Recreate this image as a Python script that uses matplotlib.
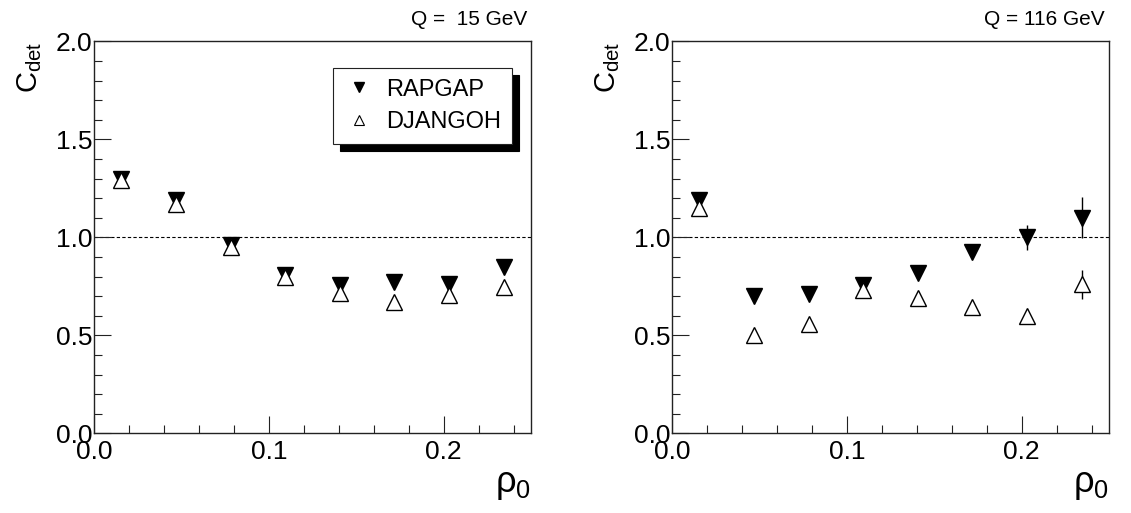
import matplotlib
matplotlib.use("Agg")
import matplotlib.pyplot as plt
from matplotlib.ticker import MultipleLocator, FormatStrFormatter
from matplotlib.lines import Line2D

plt.rcParams['font.family'] = ['Liberation Sans', 'DejaVu Sans']
plt.rcParams['mathtext.fontset'] = 'custom'
plt.rcParams['mathtext.rm'] = 'Liberation Sans'
plt.rcParams['mathtext.it'] = 'Liberation Sans'

rho = [0.0156, 0.0469, 0.0781, 0.1094, 0.1406, 0.1719, 0.2031, 0.2344]

rapgap_15 = [1.30, 1.19, 0.96, 0.81, 0.755, 0.77, 0.76, 0.85]
rapgap_15_err = [0.01, 0.01, 0.01, 0.01, 0.01, 0.01, 0.01, 0.01]
djangoh_15 = [1.29, 1.17, 0.95, 0.795, 0.715, 0.67, 0.705, 0.745]
djangoh_15_err = [0.01, 0.01, 0.01, 0.01, 0.01, 0.01, 0.01, 0.01]

rapgap_116 = [1.19, 0.70, 0.71, 0.755, 0.82, 0.925, 1.00, 1.10]
rapgap_116_err = [0.01, 0.01, 0.01, 0.015, 0.015, 0.02, 0.065, 0.105]
djangoh_116 = [1.15, 0.50, 0.56, 0.73, 0.69, 0.645, 0.60, 0.76]
djangoh_116_err = [0.01, 0.01, 0.01, 0.015, 0.015, 0.02, 0.03, 0.075]

titles = ['Q =  15 GeV', 'Q = 116 GeV']
series_names = ['RAPGAP', 'DJANGOH']
W, H = 1131, 513
fig = plt.figure(figsize=(W/100, H/100), dpi=100)

AX_W, AX_H = 437, 392
panels = [
    (94, rapgap_15, rapgap_15_err, djangoh_15, djangoh_15_err, True),
    (672, rapgap_116, rapgap_116_err, djangoh_116, djangoh_116_err, False),
]

for i, (x0, rv, re, dv, de, leg) in enumerate(panels):
    ax = fig.add_axes([x0/W, (H-433.3)/H, AX_W/W, AX_H/H])
    ax.set_xlim(0, 0.25)
    ax.set_ylim(0, 2.0)
    ax.axhline(1.0, color='black', lw=0.8, ls=(0, (3, 2)), zorder=1)
    ax.errorbar(rho, rv, yerr=re, fmt='v', ms=11, mfc='black', mec='black',
                ecolor='black', elinewidth=1, capsize=0, zorder=3)
    ax.errorbar(rho, dv, yerr=de, fmt='^', ms=11, mfc='white', mec='black', mew=1,
                ecolor='black', elinewidth=1, capsize=0, zorder=4)
    ax.xaxis.set_major_locator(MultipleLocator(0.1))
    ax.xaxis.set_minor_locator(MultipleLocator(0.02))
    ax.yaxis.set_major_locator(MultipleLocator(0.5))
    ax.yaxis.set_minor_locator(MultipleLocator(0.1))
    ax.xaxis.set_major_formatter(FormatStrFormatter('%.1f'))
    ax.yaxis.set_major_formatter(FormatStrFormatter('%.1f'))
    ax.tick_params(which='both', direction='in', top=False, right=False,
                   labelsize=19, width=0.8, color='#222222')
    ax.tick_params(which='major', length=12)
    ax.tick_params(which='minor', length=6)
    ax.tick_params(axis='x', pad=5)
    ax.tick_params(axis='y', pad=1)
    for s in ax.spines.values():
        s.set_linewidth(1.0)
        s.set_color('#222222')
    ax.text(1.0 - 4/AX_W, 1.0 + 16/AX_H, titles[i], transform=ax.transAxes,
            ha='right', va='baseline', fontsize=15)
    ax.text(-50/AX_W, 1.0, r'$\mathregular{C_{det}}$', transform=ax.transAxes,
            rotation=90, ha='right', va='top', fontsize=21)
    ax.text(1.0, -59/AX_H, r'$\mathregular{\rho_0}$', transform=ax.transAxes,
            ha='right', va='baseline', fontsize=26)
    if leg:
        handles = [
            Line2D([], [], marker='v', ls='none', ms=7, mfc='black', mec='black'),
            Line2D([], [], marker='^', ls='none', ms=7, mfc='white', mec='black', mew=0.8),
        ]
        lg = ax.legend(handles, series_names, loc='upper left',
                       bbox_to_anchor=((333-94)/AX_W, (433.3-68)/AX_H),
                       fontsize=17, frameon=True, fancybox=False,
                       shadow={'color': 'black', 'alpha': 1, 'ox': 5, 'oy': -5},
                       borderpad=0.45, borderaxespad=0, handletextpad=0.5, handlelength=1.3,
                       labelspacing=0.45, numpoints=1)
        lg.get_frame().set_edgecolor('#222222')
        lg.get_frame().set_linewidth(0.8)

fig.savefig('out.png', dpi=100)
